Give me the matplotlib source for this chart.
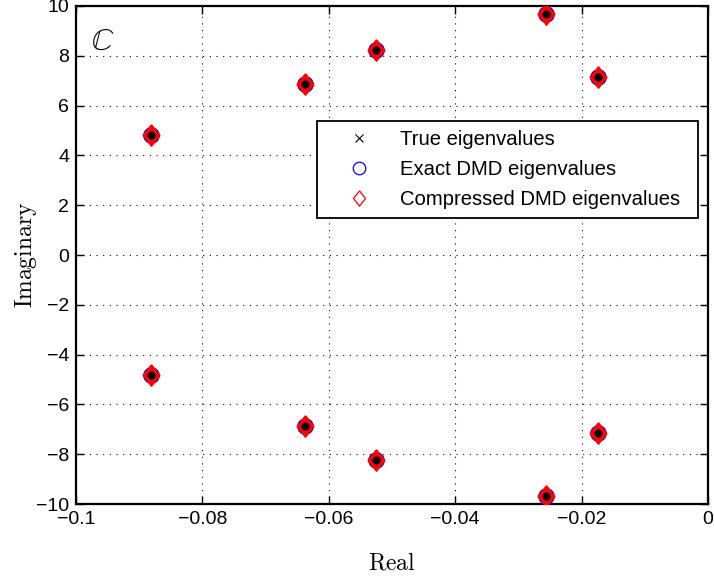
import matplotlib
matplotlib.use("Agg")
import matplotlib.pyplot as plt
from matplotlib.lines import Line2D
import numpy as np

# Eigenvalues (upper half-plane; lower half are conjugates)
real_parts = [-0.0881, -0.0638, -0.0525, -0.0257, -0.01745]
imag_parts = [4.80, 6.87, 8.22, 9.68, 7.14]

xticks = [-0.1, -0.08, -0.06, -0.04, -0.02, 0]
xticklabels = ["\u22120.1", "\u22120.08", "\u22120.06", "\u22120.04", "\u22120.02", "0"]
yticks = [-10, -8, -6, -4, -2, 0, 2, 4, 6, 8, 10]
yticklabels = ["\u221210", "\u22128", "\u22126", "\u22124", "\u22122", "0", "2", "4", "6", "8", "10"]

re = np.array(real_parts + real_parts)
im = np.array(imag_parts + [-v for v in imag_parts])

plt.rcParams['font.family'] = ['Liberation Sans', 'DejaVu Sans']

fig = plt.figure(figsize=(7.14, 5.81), dpi=100)
ax = fig.add_axes([0.1064, 0.1325, 0.8852, 0.8572])

diamond = [(0, 1), (0.78, 0), (0, -1), (-0.78, 0), (0, 1)]

ax.plot(re, im, 'o', color='blue', ms=11, mfc='blue', mec='blue', mew=1, ls='none', zorder=3)
ax.plot(re, im, color='red', marker=diamond, ms=15.5, mfc='red', mec='red', mew=1,
        ls='none', zorder=4)
ax.plot(re, im, 'o', color='black', ms=4.8, ls='none', zorder=5)

ax.set_xlim(-0.1, 0)
ax.set_ylim(-10, 10)
ax.set_xticks(xticks)
ax.set_xticklabels(xticklabels)
ax.set_yticks(yticks)
ax.set_yticklabels(yticklabels)
ax.tick_params(direction='in', length=6, width=1, labelsize=14, top=True, right=True, pad=5)
for s in ax.spines.values():
    s.set_linewidth(1.6)
ax.grid(True, linestyle=(0, (1, 5)), color='black', linewidth=0.8)

ax.set_xlabel(r'$\mathrm{Real}$', fontsize=17, math_fontfamily='cm', labelpad=18)
ax.set_ylabel(r'$\mathrm{Imaginary}$', fontsize=17, math_fontfamily='cm', labelpad=-2)

ax.text(0.024, 0.958, r'$\mathbb{C}$', transform=ax.transAxes, fontsize=22,
        math_fontfamily='stix', va='top', ha='left')

handles = [
    Line2D([], [], marker='x', color='black', ls='none', ms=6, mew=0.8),
    Line2D([], [], marker='o', color='blue', mfc='none', ls='none', ms=9, mew=0.9),
    Line2D([], [], marker=diamond, color='red', mfc='none', ls='none', ms=11, mew=0.9),
]
labels = ['True eigenvalues', 'Exact DMD eigenvalues', 'Compressed DMD eigenvalues']
leg = ax.legend(handles, labels, loc='upper left',
                bbox_to_anchor=(0.381, 0.574, 0.603, 0.195), mode='expand',
                borderaxespad=0,
                fontsize=14.6, frameon=True, fancybox=False, edgecolor='black',
                framealpha=1, handlelength=3.25, handletextpad=0.4, borderpad=0.45,
                labelspacing=0.54)
leg.get_frame().set_linewidth(1.3)

fig.savefig('out.png', dpi=100)
